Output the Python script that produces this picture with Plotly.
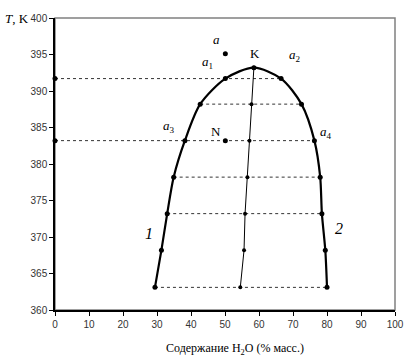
import plotly.graph_objects as go

# Binodal curve (branch 1 left, critical point K, branch 2 right)
left_x = [29.4, 31.3, 33.0, 34.9, 38.2, 42.7, 50.1]
left_T = [363.1, 368.2, 373.2, 378.2, 383.2, 388.2, 391.7]
crit_x = [58.5]
crit_T = [393.2]
right_x = [66.5, 72.5, 76.3, 78.0, 78.5, 79.5, 80.0]
right_T = [391.7, 388.2, 383.2, 378.2, 373.2, 368.2, 363.1]

# Rectilinear diameter (tie-line midpoints)
mid_x = [54.5, 55.6, 55.9, 56.6, 57.2, 57.8, 58.5]
mid_T = [363.1, 368.2, 373.2, 378.2, 383.2, 388.2, 393.2]

# Horizontal dotted tie lines: (start x, end x, T)
tie_start = [29.4, 33.0, 34.9, 0.0, 42.7, 0.0]
tie_end = [80.0, 78.5, 78.0, 76.3, 72.5, 66.5]
tie_T = [363.1, 373.2, 378.2, 383.2, 388.2, 391.7]

# Isolated points a and N, plus axis markers
pt_x = [50.1, 50.1, 0.0, 0.0]
pt_T = [395.1, 383.2, 383.2, 391.7]

# Text labels
lab_text = ["<i>a</i>", "<i>a</i><sub>1</sub>", "<i>a</i><sub>2</sub>", "<i>a</i><sub>3</sub>",
            "<i>a</i><sub>4</sub>", "K", "N", "<i>1</i>", "<i>2</i>"]
lab_x = [47.4, 44.8, 70.5, 33.4, 79.7, 58.8, 47.4, 27.7, 83.5]
lab_T = [397.1, 393.9, 394.9, 385.1, 384.3, 395.1, 384.4, 370.5, 371.2]
lab_size = [13, 13, 13, 13, 13, 13, 13, 16, 16]

x_ticks = list(range(0, 101, 10))
y_ticks = list(range(360, 401, 5))

fig = go.Figure()

for xs, xe, t in zip(tie_start, tie_end, tie_T):
    fig.add_trace(go.Scatter(x=[xs, xe], y=[t, t], mode="lines",
                             line=dict(color="#333333", width=1, dash="dot"),
                             hoverinfo="skip", showlegend=False))

curve_x = left_x + crit_x + right_x
curve_T = left_T + crit_T + right_T
fig.add_trace(go.Scatter(x=curve_x, y=curve_T, mode="lines+markers",
                         line=dict(color="black", width=2.2, shape="spline", smoothing=0.8),
                         marker=dict(color="black", size=5),
                         showlegend=False))

fig.add_trace(go.Scatter(x=mid_x, y=mid_T, mode="lines+markers",
                         line=dict(color="black", width=1),
                         marker=dict(color="black", size=4),
                         showlegend=False))

fig.add_trace(go.Scatter(x=pt_x, y=pt_T, mode="markers",
                         marker=dict(color="black", size=5),
                         cliponaxis=False, showlegend=False))

for t, x, y, s in zip(lab_text, lab_x, lab_T, lab_size):
    fig.add_annotation(x=x, y=y, text=t, showarrow=False,
                       font=dict(family="Liberation Serif", size=s, color="black"))

fig.add_annotation(xref="paper", yref="paper", x=-0.152, y=1.0, xanchor="left", yanchor="middle",
                   text="<i>T</i>, K", showarrow=False,
                   font=dict(family="Liberation Serif", size=13, color="black"))
fig.add_annotation(xref="paper", yref="paper", x=0.53, y=-0.135, xanchor="center", yanchor="middle",
                   text="Содержание H<sub>2</sub>O (% масс.)", showarrow=False,
                   font=dict(family="Liberation Serif", size=12, color="black"))

fig.add_shape(type="rect", xref="paper", yref="paper", x0=0, y0=0, x1=1, y1=1,
              line=dict(color="#808080", width=1.5), layer="below")

fig.update_xaxes(range=[0, 100], tickvals=x_ticks, showgrid=False, zeroline=False,
                 showline=True, linecolor="black", linewidth=1.5,
                 ticks="outside", ticklen=4, tickcolor="black",
                 tickfont=dict(family="Liberation Sans", size=10, color="#333333"))
fig.update_yaxes(range=[360, 400], tickvals=y_ticks, showgrid=False, zeroline=False,
                 showline=True, linecolor="black", linewidth=1.5,
                 ticks="outside", ticklen=4, tickcolor="black",
                 tickfont=dict(family="Liberation Sans", size=10, color="#333333"))

fig.update_layout(width=416, height=360, margin=dict(l=55, r=15, t=12, b=50),
                  plot_bgcolor="white", paper_bgcolor="white", showlegend=False)

fig.write_html("out.html", config={"displayModeBar": False},
               post_script="document.body.style.margin='0';")
